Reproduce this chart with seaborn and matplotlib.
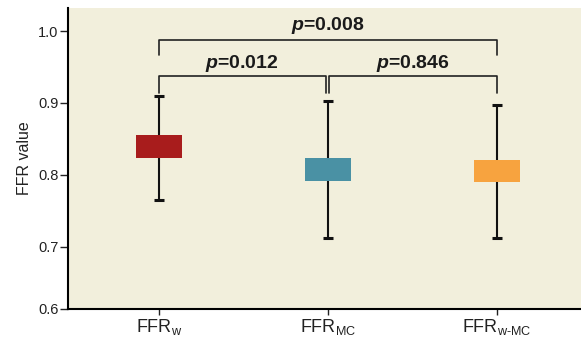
import numpy as np
import pandas as pd
import seaborn as sns
import matplotlib.pyplot as plt

# values
groups = ['FFR$_{\\mathrm{w}}$', 'FFR$_{\\mathrm{MC}}$', 'FFR$_{\\text{w-MC}}$']
box_low = [0.824, 0.792, 0.790]
box_high = [0.855, 0.823, 0.820]
whisker_low = [0.765, 0.712, 0.712]
whisker_high = [0.909, 0.902, 0.897]
colors = ['#A81C1C', '#4A91A4', '#F7A33F']

# pairwise comparisons: (left group, right group, p label)
pairs = [(0, 1), (1, 2), (0, 2)]
p_labels = ['0.012', '0.846', '0.008']

sns.set_style('white')
plt.rcParams['font.family'] = ['Liberation Sans', 'DejaVu Sans']
plt.rcParams['mathtext.fontset'] = 'custom'
plt.rcParams['mathtext.rm'] = 'Liberation Sans'
plt.rcParams['mathtext.it'] = 'Liberation Sans:italic:bold'
plt.rcParams['mathtext.bf'] = 'Liberation Sans:bold'

df = pd.DataFrame({
    'group': groups,
    'height': np.array(box_high) - np.array(box_low),
})

fig = plt.figure(figsize=(5.81, 3.41), dpi=100)
ax = fig.add_axes([0.117, 0.095, 0.883, 0.8815])
ax.set_facecolor('#F2EFDC')

# whiskers behind the boxes
mid = (np.array(whisker_low) + np.array(whisker_high)) / 2
ax.errorbar([0, 1, 2], mid, yerr=[mid - np.array(whisker_low), np.array(whisker_high) - mid],
            fmt='none', ecolor='#111111', elinewidth=1.5, capsize=3.3, capthick=2.2, zorder=1)

sns.barplot(data=df, x='group', y='height', bottom=box_low, width=0.273,
            saturation=1, errorbar=None, color=colors[0], ax=ax, zorder=3)
for patch, c in zip(ax.patches, colors):
    patch.set_facecolor(c)
    patch.set_edgecolor('none')


# the original axis is squeezed below 0.7
def fwd(y):
    y = np.asarray(y, dtype=float)
    return np.where(y >= 0.7, y, 0.7 - (0.7 - y) * 62 / 72)


def inv(v):
    v = np.asarray(v, dtype=float)
    return np.where(v >= 0.7, v, 0.7 - (0.7 - v) * 72 / 62)


ax.set_yscale('function', functions=(fwd, inv))
ax.set_ylim(0.6, 1.032)
ax.set_xlim(-0.538, 2.5)
ax.set_yticks([0.6, 0.7, 0.8, 0.9, 1.0])
ax.set_yticklabels(['0.6', '0.7', '0.8', '0.9', '1.0'])
ax.yaxis.set_minor_locator(plt.NullLocator())

# significance brackets
bracket_top = [0.937, 0.937, 0.988]
bracket_leg = [0.914, 0.914, 0.966]
text_base = [0.949, 0.949, 1.002]
x_shift = [(0, -0.012), (0.005, 0), (0, 0)]
for (a, b), lab, top, leg, base, (sa, sb) in zip(pairs, p_labels, bracket_top, bracket_leg, text_base, x_shift):
    xa, xb = a + sa, b + sb
    ax.plot([xa, xa, xb, xb], [leg, top, top, leg], color='#222222', lw=1.2, zorder=4)
    ax.text((xa + xb) / 2, base, '$p$=' + lab, ha='center', va='baseline',
            fontsize=14, fontweight='bold', color='#1a1a1a')

for side in ['top', 'right']:
    ax.spines[side].set_visible(False)
for side in ['left', 'bottom']:
    ax.spines[side].set_color('black')
    ax.spines[side].set_linewidth(1.5)

ax.tick_params(axis='y', left=True, length=6, width=1, pad=1, labelsize=10.5, colors='#222222')
ax.tick_params(axis='x', bottom=True, length=4, width=1, pad=2, labelsize=13, colors='#222222')
ax.set_xlabel('')
ax.set_ylabel('FFR value', fontsize=11.5, color='#222222', labelpad=4)

fig.savefig('out.png', dpi=100)
